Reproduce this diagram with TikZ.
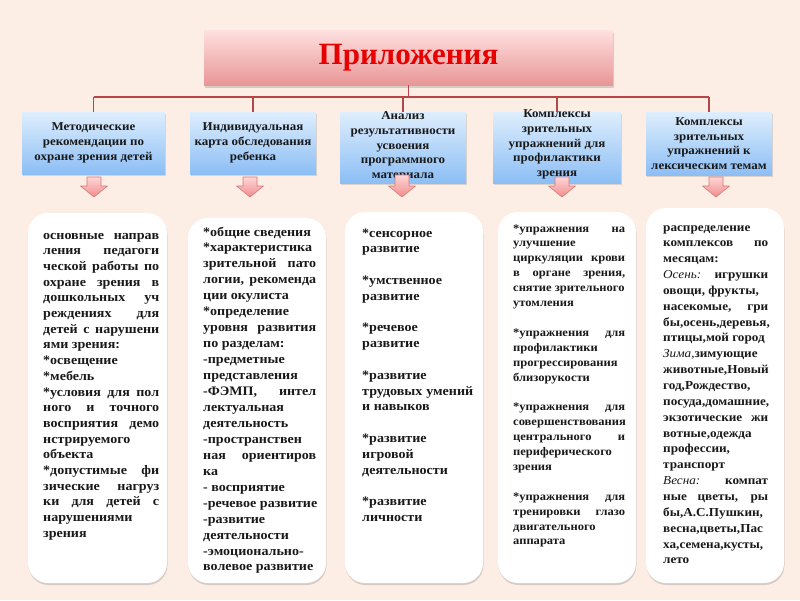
\documentclass[tikz,border=0pt]{standalone}
\usepackage{fontspec}
\setmainfont{Liberation Serif}[FakeStretch=1.08]
\newfontfamily\titlefont{Liberation Serif}
\usetikzlibrary{shadows}
\definecolor{bg}{RGB}{252,238,228}
\definecolor{conncol}{RGB}{185,70,70}
\definecolor{titlered}{RGB}{230,0,0}
\definecolor{ttop}{RGB}{255,224,224}
\definecolor{tbot}{RGB}{232,150,150}
\definecolor{btop}{RGB}{222,238,253}
\definecolor{bbot}{RGB}{140,190,245}
\definecolor{atop}{RGB}{255,214,214}
\definecolor{abot}{RGB}{240,140,140}
\definecolor{aline}{RGB}{215,120,120}
\definecolor{ink}{RGB}{25,25,25}
\newcommand\lineJ[1]{\hbox to \hsize{#1}}
\newcommand\lineN[1]{\hbox{#1}}
\newcommand\gapline{\hbox{}}
\newcommand\ital[1]{{\mdseries\itshape #1}}
\newcommand\bodycol[2]{\vtop{\hsize=#1\relax #2}}
\begin{document}
\begin{tikzpicture}[x=1pt,y=-1pt,
  conn/.style={draw=conncol, line width=1.6pt},
  titlebox/.style={inner sep=0, minimum width=409pt, minimum height=55pt, top color=ttop, bottom color=tbot, drop shadow={opacity=0.3, shadow xshift=1pt, shadow yshift=-2.5pt}},
  headbox/.style={inner sep=0, top color=btop, bottom color=bbot, drop shadow={opacity=0.25, shadow xshift=1pt, shadow yshift=-2pt}},
  headtext/.style={inner sep=0, align=center, text=ink, font=\fontsize{12}{14.7}\selectfont\bfseries},
  textbox/.style={inner sep=0, fill=white, rounded corners=20pt, drop shadow={opacity=0.3, shadow xshift=0.5pt, shadow yshift=-2pt}},
  bodytext/.style={inner sep=0, anchor=base west, text=ink},
  blockarrow/.style={top color=atop, bottom color=abot, draw=aline, line width=0.6pt, line join=round}]
\fill[bg] (0,0) rectangle (800,600);
\useasboundingbox (0,0) rectangle (800,600);

% title
\node[titlebox, text=titlered, font=\titlefont\fontsize{31}{31}\selectfont\bfseries] (title) at (408.5,57.5) {Приложения};

% header boxes
\node[headbox, minimum width=143pt, minimum height=62pt] (h1) at (93.5,143) {};
\node[headbox, minimum width=126pt, minimum height=62pt] (h2) at (253,143) {};
\node[headbox, minimum width=126pt, minimum height=71pt] (h3) at (403,147.5) {};
\node[headbox, minimum width=128pt, minimum height=71pt] (h4) at (557,147.5) {};
\node[headbox, minimum width=126pt, minimum height=63pt] (h5) at (709,143.5) {};

\node[headtext] (l1) at (h1.center) {Методические\\рекомендации по\\охране зрения детей};
\node[headtext] (l2) at (h2.center) {Индивидуальная\\карта обследования\\ребенка};
\node[headtext] (l3) at ([yshift=1pt]h3.center) {Анализ\\результативности\\усвоения\\программного\\материала};
\node[headtext] (l4) at ([yshift=3pt]h4.center) {Комплексы\\зрительных\\упражнений для\\профилактики\\зрения};
\node[headtext] (l5) at (h5.center) {Комплексы\\зрительных\\упражнений к\\лексическим темам};

% connectors
\coordinate (bus) at (0,97);
\draw[conn] (title.south) -- (title.south |- bus);
\draw[conn] (h1.north |- bus) -- (h5.north |- bus);
\foreach \i in {1,...,5} \draw[conn] (h\i.north |- bus) -- (h\i.north);

% block arrows
\foreach \cx/\ty in {94/177, 250/177, 402/175, 562/177, 716/177} {
  \path[blockarrow] (\cx-7,\ty) -- (\cx+7,\ty) -- (\cx+7,186) -- (\cx+13.5,186) -- (\cx,197) -- (\cx-13.5,186) -- (\cx-7,186) -- cycle;
}

% text boxes
\node[textbox, minimum width=139pt, minimum height=370pt] (b1) at (97.5,398) {};
\node[textbox, minimum width=138pt, minimum height=365pt] (b2) at (257,400.5) {};
\node[textbox, minimum width=138pt, minimum height=371pt] (b3) at (414,397.5) {};
\node[textbox, minimum width=138pt, minimum height=371pt] (b4) at (567,397.5) {};
\node[textbox, minimum width=138pt, minimum height=375pt] (b5) at (715,395.5) {};

\node[bodytext, font=\fontsize{13}{15.7}\selectfont\bfseries] (t1) at (43,239) {\bodycol{116pt}{%
\lineJ{основные направ}
\lineJ{ления педагоги}
\lineJ{ческой работы по}
\lineJ{охране зрения в}
\lineJ{дошкольных уч}
\lineJ{реждениях для}
\lineJ{детей с нарушени}
\lineN{ями зрения:}
\lineN{*освещение}
\lineN{*мебель}
\lineJ{*условия для пол}
\lineJ{ного и точного}
\lineJ{восприятия демо}
\lineN{нстрируемого}
\lineN{объекта}
\lineJ{*допустимые фи}
\lineJ{зические нагруз}
\lineJ{ки для детей с}
\lineN{нарушениями}
\lineN{зрения}}};

\node[bodytext, font=\fontsize{13}{15.95}\selectfont\bfseries] (t2) at (203,236) {\bodycol{113pt}{%
\lineN{*общие сведения}
\lineN{*характеристика}
\lineJ{зрительной пато}
\lineJ{логии, рекоменда}
\lineN{ции окулиста}
\lineN{*определение}
\lineJ{уровня развития}
\lineN{по разделам:}
\lineN{-предметные}
\lineN{представления}
\lineJ{-ФЭМП, интел}
\lineN{лектуальная}
\lineN{деятельность}
\lineN{-пространствен}
\lineJ{ная ориентиров}
\lineN{ка}
\lineN{- восприятие}
\lineN{-речевое развитие}
\lineN{-развитие}
\lineN{деятельности}
\lineN{-эмоционально-}
\lineN{волевое развитие}}};

\node[bodytext, font=\fontsize{13}{15.8}\selectfont\bfseries] (t3) at (362,237) {\bodycol{111pt}{%
\lineN{*сенсорное}
\lineN{развитие}
\gapline
\lineN{*умственное}
\lineN{развитие}
\gapline
\lineN{*речевое}
\lineN{развитие}
\gapline
\lineN{*развитие}
\lineJ{трудовых умений}
\lineN{и навыков}
\gapline
\lineN{*развитие}
\lineN{игровой}
\lineN{деятельности}
\gapline
\lineN{*развитие}
\lineN{личности}}};

\node[bodytext, font=\fontsize{11.6}{14.9}\selectfont\bfseries] (t4) at (513,232) {\bodycol{112pt}{%
\lineJ{*упражнения на}
\lineN{улучшение}
\lineJ{циркуляции крови}
\lineJ{в органе зрения,}
\lineN{снятие зрительного}
\lineN{утомления}
\gapline
\lineJ{*упражнения для}
\lineN{профилактики}
\lineN{прогрессирования}
\lineN{близорукости}
\gapline
\lineJ{*упражнения для}
\lineN{совершенствования}
\lineJ{центрального и}
\lineN{периферического}
\lineN{зрения}
\gapline
\lineJ{*упражнения для}
\lineJ{тренировки глазо}
\lineN{двигательного}
\lineN{аппарата}}};

\node[bodytext, font=\fontsize{12.2}{15.85}\selectfont\bfseries] (t5) at (663,231) {\bodycol{105pt}{%
\lineN{распределение}
\lineJ{комплексов по}
\lineN{месяцам:}
\lineJ{\ital{Осень:} игрушки}
\lineN{овощи, фрукты,}
\lineJ{насекомые, гри}
\lineN{бы,осень,деревья,}
\lineN{птицы,мой город}
\lineN{\ital{Зима,}зимующие}
\lineN{животные,Новый}
\lineN{год,Рождество,}
\lineN{посуда,домашние,}
\lineJ{экзотические жи}
\lineN{вотные,одежда}
\lineN{профессии,}
\lineN{транспорт}
\lineJ{\ital{Весна:} компат}
\lineJ{ные цветы, ры}
\lineN{бы,А.С.Пушкин,}
\lineN{весна,цветы,Пас}
\lineN{ха,семена,кусты,}
\lineN{лето}}};
\end{tikzpicture}
\end{document}
